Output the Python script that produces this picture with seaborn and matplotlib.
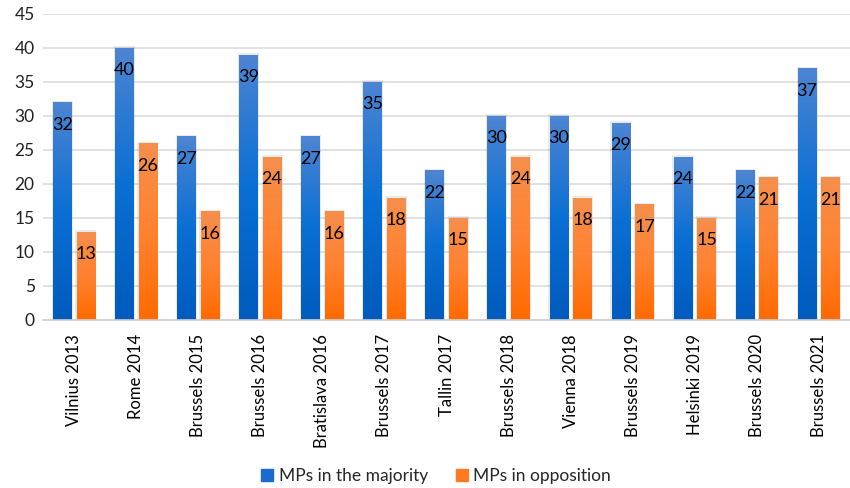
import numpy as np
import pandas as pd
import matplotlib
matplotlib.use("Agg")
import matplotlib.pyplot as plt
import seaborn as sns
from matplotlib.colors import LinearSegmentedColormap

categories = ["Vilnius 2013", "Rome 2014", "Brussels 2015", "Brussels 2016",
              "Bratislava 2016", "Brussels 2017", "Tallin 2017", "Brussels 2018",
              "Vienna 2018", "Brussels 2019", "Helsinki 2019", "Brussels 2020",
              "Brussels 2021"]
majority = [32, 40, 27, 39, 27, 35, 22, 30, 30, 29, 24, 22, 37]
opposition = [13, 26, 16, 24, 16, 18, 15, 24, 18, 17, 15, 21, 21]
series_names = ["MPs in the majority", "MPs in opposition"]
y_ticks = list(range(0, 50, 5))

df = pd.DataFrame({
    "venue": categories * 2,
    "value": majority + opposition,
    "series": [series_names[0]] * len(categories) + [series_names[1]] * len(categories),
})

sns.set_theme(style="white")
plt.rcParams["font.family"] = ["Lato", "DejaVu Sans"]

fig = plt.figure(figsize=(8.5, 4.88), dpi=100)
ax = fig.add_axes([43 / 850, 1 - 320 / 488, (850 - 43) / 850, (320 - 14) / 488])

palette = {series_names[0]: "#1f6fd0", series_names[1]: "#ff7f27"}
sns.barplot(data=df, x="venue", y="value", hue="series", order=categories,
            hue_order=series_names, palette=palette, width=0.76, dodge=True,
            ax=ax, legend=False, saturation=1)

ax.set_ylim(0, 45)
ax.set_xlim(-0.5, len(categories) - 0.5)
ax.set_yticks(y_ticks)
ax.yaxis.grid(True, color="#dcdcdc", linewidth=1.2)
ax.set_axisbelow(True)
for s in ["top", "right", "left"]:
    ax.spines[s].set_visible(False)
ax.spines["bottom"].set_color("#d0d0d0")
ax.spines["bottom"].set_linewidth(1.2)
ax.set_xlabel("")
ax.set_ylabel("")
ax.tick_params(axis="y", labelsize=12.5, colors="#222222", length=0, pad=6)
ax.tick_params(axis="x", labelsize=12, colors="#000000", length=0, pad=10)
plt.setp(ax.get_xticklabels(), rotation=90)

cmaps = [
    LinearSegmentedColormap.from_list("b", [(0, "#005bbd"), (0.5, "#0a6fd4"), (1, "#4d85d2")]),
    LinearSegmentedColormap.from_list("o", [(0, "#ff6a00"), (0.5, "#ff8230"), (1, "#f58f4c")]),
]
grad = np.linspace(0, 1, 256).reshape(-1, 1)
bar_w = 0.30
patches = list(ax.patches)
n = len(categories)
for i, p in enumerate(patches):
    si = i // n
    cx = p.get_x() + p.get_width() / 2
    p.set_x(cx - bar_w / 2)
    p.set_width(bar_w)
    h = p.get_height()
    ax.add_patch(plt.Rectangle((cx - bar_w / 2 - 0.02, 0), bar_w + 0.04, h + 0.25,
                               facecolor="#000000", alpha=0.08, edgecolor="none", zorder=1.5))
    im = ax.imshow(grad, cmap=cmaps[si], aspect="auto", origin="lower",
                   extent=(cx - bar_w / 2, cx + bar_w / 2, 0, h), zorder=2, vmin=0, vmax=1)
    im.set_clip_path(p)
    p.set_facecolor("none")
    p.set_edgecolor("none")
    p.set_zorder(2)
    ax.text(cx, h - 3.3, f"{int(h)}", ha="center", va="center", fontsize=13,
            color="#000000", zorder=3)

ax.set_ylim(0, 45)
ax.set_xlim(-0.5, len(categories) - 0.5)

handles = [plt.Rectangle((0, 0), 1, 1, color=c) for c in ["#1a6ad0", "#ff7a22"]]
fig.legend(handles, series_names, loc="center", bbox_to_anchor=(436 / 850, 1 - 476 / 488),
           ncol=2, frameon=False, fontsize=12.5, handlelength=0.7, handleheight=0.7,
           handletextpad=0.3, columnspacing=1.6)

fig.savefig("out.png", dpi=100)
